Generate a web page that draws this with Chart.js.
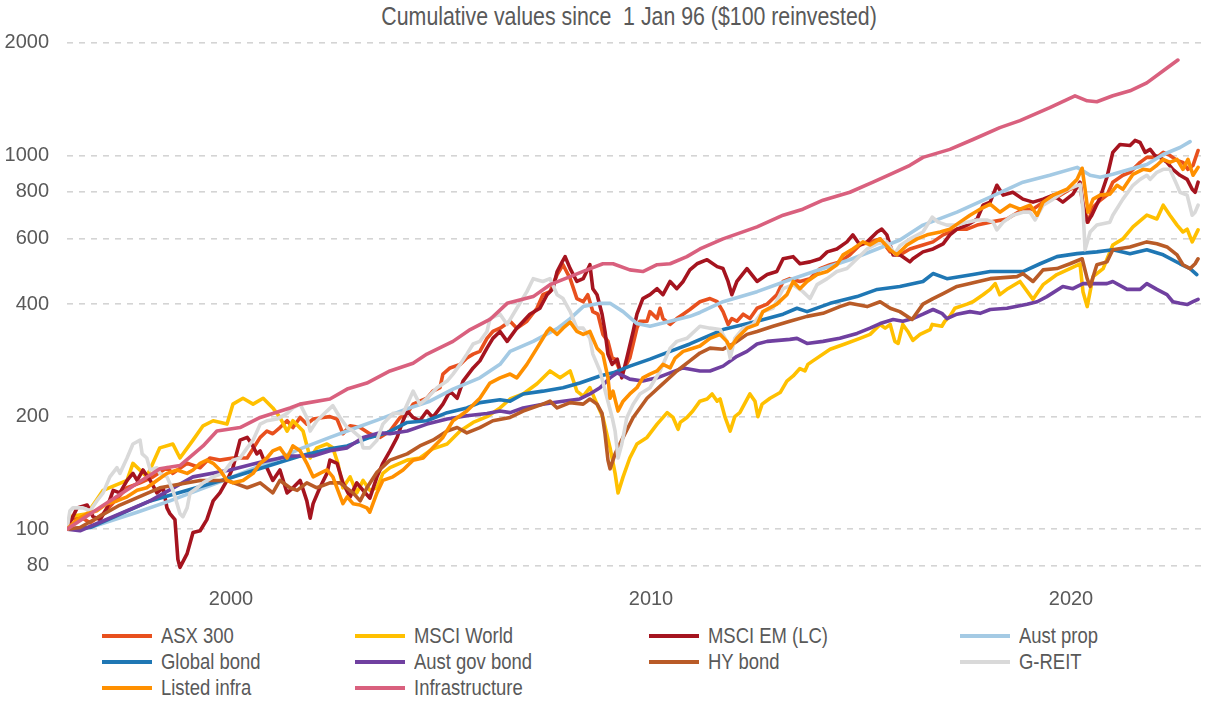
<!DOCTYPE html>
<html>
<head>
<meta charset="utf-8">
<script src="https://cdn.jsdelivr.net/npm/chart.js@4.4.0/dist/chart.umd.min.js"></script>
<style>
body { margin: 0; background: #fff; }
#wrap { position: relative; width: 1206px; height: 701px; font-family: "Liberation Sans", Arial, sans-serif; color: #595959; }
#plot { position: absolute; left: 0; top: 0; width: 1206px; height: 612px; }
#title { position: absolute; top: 1px; left: 0; width: 1258px; text-align: center; font-size: 26px; white-space: pre; }
#title span { display: inline-block; transform: scaleX(0.82); transform-origin: center; }
#legend { position: absolute; left: 0; top: 623px; width: 1206px; height: 78px; }
.item { position: absolute; height: 26px; line-height: 26px; font-size: 22.5px; white-space: nowrap; }
.item .sw { display: inline-block; width: 50px; height: 4px; vertical-align: middle; margin-right: 9px; position: relative; top: -1px; }
.item .txt { display: inline-block; transform: scaleX(0.82); transform-origin: left center; }
</style>
</head>
<body>
<div id="wrap">
  <div id="title"><span>Cumulative values since  1 Jan 96 ($100 reinvested)</span></div>
  <div id="plot"><canvas id="myLineChart"></canvas></div>
  <div id="legend"></div>
</div>
<script>
// series: [year, value]
var asx300 = [[1996.00,100],[1996.07,106],[1996.31,108],[1996.55,104],[1996.86,110],[1997.43,129],[1997.74,133],[1998.05,138],[1998.38,146],[1998.52,141],[1998.86,150],[1999.17,146],[1999.40,155],[1999.64,153],[1999.95,155],[2000.29,155],[2000.60,176],[2000.76,183],[2000.90,180],[2001.07,187],[2001.24,195],[2001.38,187],[2001.55,199],[2001.71,191],[2001.86,197],[2002.10,199],[2002.26,200],[2002.43,197],[2002.57,180],[2002.74,189],[2002.98,187],[2003.21,180],[2003.45,176],[2003.69,183],[2003.93,199],[2004.10,204],[2004.24,216],[2004.40,220],[2004.57,224],[2004.71,234],[2004.88,239],[2004.95,260],[2005.12,270],[2005.36,276],[2005.52,287],[2005.67,294],[2005.83,299],[2006.00,324],[2006.14,338],[2006.31,345],[2006.55,360],[2006.71,345],[2006.95,360],[2007.19,390],[2007.33,424],[2007.50,432],[2007.67,480],[2007.81,510],[2007.98,468],[2008.14,414],[2008.29,406],[2008.40,424],[2008.52,382],[2008.64,376],[2008.76,332],[2008.88,318],[2008.98,287],[2009.05,285],[2009.17,265],[2009.24,265],[2009.40,287],[2009.57,345],[2009.64,360],[2009.81,360],[2009.88,382],[2010.05,366],[2010.12,390],[2010.19,366],[2010.36,353],[2010.52,366],[2010.67,376],[2010.83,387],[2011.07,406],[2011.31,414],[2011.48,406],[2011.62,382],[2011.74,353],[2011.83,366],[2011.95,360],[2012.10,376],[2012.26,366],[2012.43,390],[2012.67,400],[2012.90,424],[2013.05,460],[2013.21,468],[2013.45,460],[2013.69,468],[2013.93,498],[2014.17,510],[2014.40,519],[2014.64,542],[2014.88,576],[2015.12,587],[2015.36,598],[2015.60,552],[2015.83,542],[2016.07,562],[2016.38,576],[2016.62,587],[2016.86,613],[2017.19,635],[2017.43,635],[2017.67,651],[2017.98,663],[2018.38,676],[2018.76,718],[2019.00,718],[2019.24,750],[2019.57,773],[2019.88,812],[2020.12,832],[2020.19,736],[2020.31,663],[2020.43,727],[2020.60,759],[2020.76,783],[2020.90,848],[2021.14,885],[2021.31,901],[2021.55,958],[2021.71,988],[2021.95,988],[2022.10,1019],[2022.26,1000],[2022.43,970],[2022.57,958],[2022.69,918],[2022.81,941],[2022.93,1031]];

var msciWorld = [[1996.00,100],[1996.07,108],[1996.48,110],[1996.86,127],[1997.43,135],[1997.57,150],[1997.90,138],[1998.21,165],[1998.52,169],[1998.69,155],[1999.00,173],[1999.24,189],[1999.48,195],[1999.81,191],[1999.95,216],[2000.19,224],[2000.43,216],[2000.67,224],[2000.90,211],[2001.07,199],[2001.24,183],[2001.38,195],[2001.62,183],[2001.79,155],[2001.95,165],[2002.19,169],[2002.33,165],[2002.45,150],[2002.57,129],[2002.74,138],[2002.90,125],[2003.05,135],[2003.21,127],[2003.38,129],[2003.52,141],[2003.69,146],[2004.10,153],[2004.40,155],[2004.71,164],[2005.05,169],[2005.36,183],[2005.67,193],[2006.00,200],[2006.31,211],[2006.55,223],[2006.86,230],[2007.19,245],[2007.50,265],[2007.74,254],[2007.98,265],[2008.14,234],[2008.29,227],[2008.45,239],[2008.62,216],[2008.76,199],[2008.93,165],[2009.05,141],[2009.12,125],[2009.24,138],[2009.40,155],[2009.57,169],[2009.81,176],[2010.05,191],[2010.29,205],[2010.43,199],[2010.55,185],[2010.60,193],[2010.76,199],[2010.90,207],[2011.07,220],[2011.24,223],[2011.36,230],[2011.48,220],[2011.55,223],[2011.67,199],[2011.79,183],[2011.90,200],[2012.02,205],[2012.26,230],[2012.38,220],[2012.45,200],[2012.55,216],[2012.74,224],[2012.98,232],[2013.14,249],[2013.29,257],[2013.45,269],[2013.57,265],[2013.64,276],[2013.76,282],[2014.17,303],[2014.52,313],[2014.88,324],[2015.12,332],[2015.36,353],[2015.48,345],[2015.60,353],[2015.71,318],[2015.79,314],[2015.90,353],[2016.02,338],[2016.14,320],[2016.31,332],[2016.55,342],[2016.60,353],[2016.83,349],[2016.90,360],[2017.02,371],[2017.14,390],[2017.43,400],[2017.57,406],[2017.81,424],[2017.98,438],[2018.10,454],[2018.21,424],[2018.40,440],[2018.69,460],[2019.00,412],[2019.24,451],[2019.57,480],[2019.88,498],[2020.12,513],[2020.19,432],[2020.29,394],[2020.43,474],[2020.67,498],[2020.90,576],[2021.14,598],[2021.38,644],[2021.71,692],[2021.95,676],[2022.10,736],[2022.26,692],[2022.43,651],[2022.57,624],[2022.67,635],[2022.79,587],[2022.93,632]];

var msciEm = [[1996.00,100],[1996.07,104],[1996.24,114],[1996.48,116],[1996.62,108],[1996.79,106],[1996.95,114],[1997.10,127],[1997.26,125],[1997.43,135],[1997.57,141],[1997.67,135],[1997.81,144],[1997.98,135],[1998.14,125],[1998.29,129],[1998.38,114],[1998.45,110],[1998.57,106],[1998.64,83],[1998.69,79],[1998.86,86],[1999.00,98],[1999.17,99],[1999.33,106],[1999.48,119],[1999.64,125],[1999.81,135],[1999.95,146],[2000.12,173],[2000.29,176],[2000.40,169],[2000.52,159],[2000.60,162],[2000.76,146],[2000.90,135],[2001.07,144],[2001.24,125],[2001.38,129],[2001.55,135],[2001.71,119],[2001.79,107],[2001.86,117],[2002.02,129],[2002.19,141],[2002.26,153],[2002.43,150],[2002.57,133],[2002.74,122],[2002.90,133],[2003.05,127],[2003.21,121],[2003.38,138],[2003.52,150],[2003.69,162],[2003.86,176],[2004.00,195],[2004.10,207],[2004.24,199],[2004.40,195],[2004.57,207],[2004.71,199],[2004.95,216],[2005.12,234],[2005.29,224],[2005.43,249],[2005.67,270],[2005.83,282],[2006.00,305],[2006.14,324],[2006.31,338],[2006.48,318],[2006.71,345],[2007.02,376],[2007.26,390],[2007.43,424],[2007.57,440],[2007.67,489],[2007.79,519],[2007.86,536],[2007.98,498],[2008.14,460],[2008.29,468],[2008.45,510],[2008.52,440],[2008.62,424],[2008.74,376],[2008.81,338],[2008.88,294],[2008.98,276],[2009.10,285],[2009.21,254],[2009.33,287],[2009.48,338],[2009.57,376],[2009.71,414],[2009.88,424],[2010.05,440],[2010.19,424],[2010.36,460],[2010.52,440],[2010.67,460],[2010.83,494],[2011.00,513],[2011.24,526],[2011.48,504],[2011.62,498],[2011.74,460],[2011.83,424],[2011.95,460],[2012.19,498],[2012.43,460],[2012.67,480],[2012.90,489],[2013.05,529],[2013.29,536],[2013.45,513],[2013.69,519],[2013.93,529],[2014.10,552],[2014.33,562],[2014.57,587],[2014.71,613],[2014.88,576],[2015.05,587],[2015.29,624],[2015.40,635],[2015.52,613],[2015.67,542],[2015.83,542],[2016.07,519],[2016.14,529],[2016.38,552],[2016.62,562],[2016.86,580],[2017.02,613],[2017.19,635],[2017.43,651],[2017.67,676],[2017.81,736],[2017.98,750],[2018.14,832],[2018.29,783],[2018.52,797],[2018.76,764],[2019.00,750],[2019.24,764],[2019.48,783],[2019.71,750],[2019.95,788],[2020.12,848],[2020.19,736],[2020.29,663],[2020.40,692],[2020.60,773],[2020.76,874],[2020.90,1019],[2021.07,1070],[2021.31,1063],[2021.43,1097],[2021.55,1083],[2021.67,1019],[2021.79,1038],[2021.90,1000],[2022.02,988],[2022.19,958],[2022.33,918],[2022.50,885],[2022.67,863],[2022.79,812],[2022.86,797],[2022.93,848]];

var austProp = [[1996.00,100],[1996.55,101],[1997.67,111],[1998.45,119],[1999.88,137],[2001.07,155],[2001.55,164],[2002.26,176],[2002.90,187],[2003.45,197],[2004.10,210],[2004.64,220],[2005.19,237],[2005.83,254],[2006.31,276],[2006.55,299],[2007.10,318],[2007.67,344],[2007.98,366],[2008.29,394],[2008.69,402],[2008.93,402],[2009.24,382],[2009.57,355],[2009.88,349],[2010.36,360],[2010.83,371],[2011.07,380],[2011.62,406],[2012.43,432],[2013.21,465],[2014.00,498],[2014.64,526],[2015.29,562],[2015.83,594],[2016.38,651],[2017.19,705],[2017.98,773],[2018.76,848],[2019.40,885],[2020.05,929],[2020.36,885],[2020.60,874],[2020.90,890],[2021.31,918],[2021.71,946],[2022.10,1006],[2022.50,1050],[2022.74,1089]];

var globalBond = [[1996.00,100],[1996.55,101],[1997.98,119],[1999.88,137],[2001.07,151],[2001.55,157],[2002.26,164],[2002.67,167],[2003.21,176],[2003.62,181],[2004.10,193],[2004.57,195],[2005.05,205],[2005.52,211],[2005.83,218],[2006.31,222],[2006.55,220],[2006.86,230],[2007.33,234],[2007.81,239],[2008.21,246],[2008.69,257],[2009.00,262],[2009.40,273],[2009.88,285],[2010.36,299],[2010.83,313],[2011.62,342],[2012.43,360],[2013.05,376],[2013.38,390],[2013.62,382],[2014.17,402],[2014.81,419],[2015.29,438],[2015.83,446],[2016.38,460],[2016.62,483],[2016.95,468],[2017.57,480],[2017.98,489],[2018.76,489],[2019.17,513],[2019.57,536],[2020.05,546],[2020.52,552],[2020.90,559],[2021.31,546],[2021.71,559],[2022.10,542],[2022.50,513],[2022.74,498],[2022.90,480]];

var austGovBond = [[1996.00,100],[1996.31,99],[1997.98,119],[1999.00,138],[1999.88,144],[2000.60,151],[2001.31,157],[2001.86,157],[2002.26,162],[2002.67,165],[2003.05,176],[2003.45,181],[2003.69,180],[2004.10,183],[2004.57,191],[2005.05,197],[2005.52,201],[2006.00,204],[2006.31,207],[2006.55,205],[2006.86,211],[2007.33,216],[2007.81,220],[2008.21,223],[2008.45,230],[2008.69,239],[2008.93,254],[2009.10,262],[2009.40,252],[2009.71,249],[2010.05,254],[2010.36,262],[2010.67,270],[2011.07,265],[2011.31,265],[2011.62,273],[2011.95,290],[2012.19,299],[2012.43,313],[2012.67,318],[2013.21,322],[2013.38,324],[2013.62,314],[2014.00,318],[2014.40,324],[2014.81,334],[2015.12,345],[2015.36,355],[2015.67,364],[2015.90,360],[2016.14,366],[2016.38,376],[2016.62,387],[2016.83,378],[2016.95,366],[2017.19,376],[2017.50,382],[2017.74,378],[2017.98,387],[2018.38,390],[2018.86,400],[2019.10,406],[2019.33,419],[2019.71,446],[2019.95,440],[2020.19,454],[2020.36,454],[2020.76,454],[2020.90,460],[2021.24,438],[2021.55,438],[2021.71,454],[2021.95,438],[2022.19,424],[2022.33,406],[2022.50,402],[2022.67,399],[2022.81,406],[2022.93,412]];

var hyBond = [[1996.00,100],[1996.31,101],[1997.26,116],[1998.21,129],[1999.17,135],[1999.81,135],[2000.29,129],[2000.60,133],[2000.90,125],[2001.07,135],[2001.31,129],[2001.48,127],[2001.71,133],[2001.95,129],[2002.26,133],[2002.50,133],[2002.81,125],[2002.98,119],[2003.14,129],[2003.38,142],[2003.69,153],[2004.10,159],[2004.40,167],[2004.71,173],[2005.05,183],[2005.29,187],[2005.52,181],[2005.83,187],[2006.14,195],[2006.55,199],[2006.86,207],[2007.33,216],[2007.50,220],[2007.67,211],[2007.98,218],[2008.29,216],[2008.45,223],[2008.62,216],[2008.74,204],[2008.81,180],[2008.88,153],[2008.93,145],[2009.05,159],[2009.24,176],[2009.48,199],[2009.81,224],[2010.19,245],[2010.52,265],[2010.83,282],[2011.07,296],[2011.31,305],[2011.62,303],[2011.86,313],[2012.19,332],[2012.43,338],[2012.81,349],[2013.21,360],[2013.62,371],[2014.00,378],[2014.40,394],[2014.64,402],[2015.05,394],[2015.36,406],[2015.60,390],[2015.83,382],[2016.12,364],[2016.38,400],[2016.62,414],[2016.86,427],[2017.19,446],[2017.50,454],[2017.98,468],[2018.62,474],[2018.76,483],[2019.00,460],[2019.24,494],[2019.57,498],[2019.88,513],[2020.17,529],[2020.29,468],[2020.36,446],[2020.52,510],[2020.76,519],[2020.90,559],[2021.31,569],[2021.71,587],[2021.95,580],[2022.19,569],[2022.43,542],[2022.57,510],[2022.74,498],[2022.86,513],[2022.93,529]];

var gReit = [[1996.00,100],[1996.07,112],[1996.14,114],[1996.38,114],[1996.55,112],[1996.71,119],[1996.86,125],[1997.02,138],[1997.19,146],[1997.26,141],[1997.43,155],[1997.57,169],[1997.74,173],[1997.79,159],[1997.90,155],[1997.98,144],[1998.14,146],[1998.21,141],[1998.38,138],[1998.52,127],[1998.62,117],[1998.69,110],[1998.76,108],[1998.86,114],[1998.93,125],[1999.10,129],[1999.24,133],[1999.48,138],[1999.71,141],[1999.95,153],[2000.12,155],[2000.29,165],[2000.43,173],[2000.60,191],[2000.76,195],[2001.00,197],[2001.24,204],[2001.38,211],[2001.55,216],[2001.71,199],[2001.79,183],[2001.95,195],[2002.19,207],[2002.33,214],[2002.50,199],[2002.67,187],[2002.81,183],[2002.98,176],[2003.05,165],[2003.21,165],[2003.38,173],[2003.52,191],[2003.76,204],[2004.00,204],[2004.24,234],[2004.40,216],[2004.57,224],[2004.81,239],[2005.05,249],[2005.19,260],[2005.36,276],[2005.52,294],[2005.67,313],[2005.83,318],[2006.00,338],[2006.07,366],[2006.31,376],[2006.48,353],[2006.71,390],[2006.95,432],[2007.10,468],[2007.33,460],[2007.50,468],[2007.67,424],[2007.81,414],[2007.98,382],[2008.14,345],[2008.29,345],[2008.45,324],[2008.52,294],[2008.69,265],[2008.86,224],[2008.98,199],[2009.05,183],[2009.12,155],[2009.21,169],[2009.33,199],[2009.48,216],[2009.64,230],[2009.88,239],[2010.12,265],[2010.36,305],[2010.52,318],[2010.76,324],[2011.07,349],[2011.31,345],[2011.55,342],[2011.71,318],[2011.79,287],[2011.90,324],[2012.10,345],[2012.33,353],[2012.57,382],[2012.81,390],[2013.05,440],[2013.29,451],[2013.52,432],[2013.69,414],[2013.86,451],[2014.10,468],[2014.33,489],[2014.57,498],[2014.81,529],[2015.05,562],[2015.29,580],[2015.52,587],[2015.71,546],[2015.83,573],[2016.07,598],[2016.38,624],[2016.60,684],[2016.74,663],[2016.95,651],[2017.19,651],[2017.43,663],[2017.67,672],[2017.90,672],[2018.05,663],[2018.14,632],[2018.29,663],[2018.52,692],[2018.76,705],[2018.93,705],[2019.05,672],[2019.24,736],[2019.48,764],[2019.71,797],[2019.95,822],[2020.12,837],[2020.19,718],[2020.24,559],[2020.36,624],[2020.52,651],[2020.83,663],[2020.90,692],[2021.14,764],[2021.38,832],[2021.55,863],[2021.71,885],[2021.79,863],[2021.95,901],[2022.10,918],[2022.26,918],[2022.43,832],[2022.50,797],[2022.67,783],[2022.79,692],[2022.86,705],[2022.93,736]];

var listedInfra = [[1996.00,100],[1996.24,106],[1996.48,110],[1996.71,112],[1996.95,117],[1997.19,119],[1997.43,122],[1997.67,127],[1997.90,129],[1998.14,135],[1998.38,141],[1998.62,144],[1998.86,141],[1999.00,144],[1999.17,150],[1999.33,153],[1999.48,150],[1999.64,144],[1999.81,135],[1999.95,133],[2000.19,135],[2000.43,141],[2000.60,150],[2000.76,155],[2000.90,162],[2001.07,165],[2001.24,155],[2001.38,167],[2001.55,162],[2001.71,150],[2001.86,138],[2002.02,141],[2002.19,144],[2002.33,138],[2002.45,127],[2002.57,117],[2002.67,122],[2002.81,117],[2002.98,116],[2003.14,114],[2003.21,111],[2003.38,125],[2003.52,135],[2003.76,138],[2004.00,144],[2004.24,153],[2004.48,155],[2004.71,165],[2004.95,176],[2005.19,195],[2005.52,207],[2005.83,224],[2006.07,246],[2006.31,254],[2006.55,260],[2006.71,254],[2006.95,276],[2007.19,305],[2007.43,338],[2007.50,345],[2007.67,332],[2007.81,345],[2007.98,358],[2008.14,338],[2008.29,332],[2008.45,338],[2008.62,305],[2008.76,294],[2008.88,254],[2008.93,224],[2009.00,234],[2009.12,207],[2009.24,220],[2009.40,230],[2009.57,239],[2009.71,254],[2009.88,260],[2010.05,265],[2010.19,276],[2010.36,270],[2010.48,287],[2010.67,299],[2010.83,303],[2011.07,309],[2011.31,324],[2011.55,332],[2011.71,318],[2011.79,305],[2011.95,324],[2012.19,345],[2012.43,353],[2012.57,382],[2012.90,400],[2013.14,424],[2013.29,460],[2013.45,440],[2013.62,460],[2013.86,480],[2014.10,489],[2014.33,510],[2014.48,542],[2014.71,562],[2014.95,587],[2015.12,576],[2015.36,598],[2015.60,559],[2015.76,542],[2016.00,576],[2016.24,598],[2016.48,613],[2016.79,624],[2017.02,635],[2017.26,663],[2017.50,692],[2017.74,718],[2017.98,741],[2018.21,705],[2018.45,736],[2018.69,718],[2018.93,736],[2019.10,692],[2019.24,750],[2019.48,783],[2019.81,812],[2020.05,863],[2020.17,924],[2020.24,812],[2020.31,705],[2020.43,764],[2020.60,783],[2020.83,788],[2021.00,832],[2021.14,812],[2021.38,890],[2021.62,918],[2021.79,912],[2021.95,941],[2022.10,976],[2022.26,958],[2022.43,976],[2022.57,918],[2022.69,976],[2022.81,885],[2022.93,929]];

var infrastructure = [[1996.00,100],[1997.02,119],[1998.21,145],[1998.69,148],[1999.24,167],[1999.57,183],[2000.12,187],[2000.60,199],[2001.31,211],[2001.55,216],[2002.26,223],[2002.67,237],[2003.14,246],[2003.69,265],[2004.24,278],[2004.57,294],[2005.19,318],[2005.60,342],[2006.07,364],[2006.48,402],[2007.10,419],[2007.50,451],[2007.98,474],[2008.38,494],[2008.76,513],[2009.00,513],[2009.40,494],[2009.71,489],[2010.05,510],[2010.36,513],[2010.76,536],[2011.07,562],[2011.62,598],[2012.43,644],[2013.05,692],[2013.52,718],[2014.00,759],[2014.64,797],[2015.19,848],[2015.60,890],[2016.07,941],[2016.38,988],[2017.02,1038],[2017.57,1103],[2018.21,1187],[2018.69,1239],[2019.40,1342],[2020.00,1444],[2020.29,1400],[2020.52,1392],[2020.90,1444],[2021.31,1489],[2021.71,1564],[2022.19,1714],[2022.45,1800]];

var seriesLabels = ["ASX 300", "MSCI World", "MSCI EM (LC)", "Aust prop", "Global bond", "Aust gov bond", "HY bond", "G-REIT", "Listed infra", "Infrastructure"];
var seriesData = [asx300, msciWorld, msciEm, austProp, globalBond, austGovBond, hyBond, gReit, listedInfra, infrastructure];
var seriesColors = ["#e8501e", "#ffc000", "#a5141f", "#a4cae4", "#1f77b4", "#7040a0", "#b95b27", "#d9d9d9", "#ff9000", "#d9607e"];

var yTicks = [80, 100, 200, 400, 600, 800, 1000, 2000];
var xTicks = [2000, 2010, 2020];

var datasets = seriesData.map(function (d, i) {
    return {
        label: seriesLabels[i],
        data: d.map(function (p) { return { x: p[0], y: p[1] }; }),
        borderColor: seriesColors[i],
        backgroundColor: seriesColors[i],
        borderWidth: 3.6,
        pointRadius: 0,
        tension: 0,
        borderJoinStyle: "round",
        borderCapStyle: "round",
        order: seriesData.length - i
    };
});

var tickFont = { family: '"Liberation Sans", Arial, sans-serif', size: 20 };

var lineChart = document.getElementById("myLineChart");
var LineChart = new Chart(lineChart, {
    type: 'line',
    data: { datasets: datasets },
    options: {
        responsive: true,
        maintainAspectRatio: false,
        animation: false,
        layout: { padding: { top: 27, right: 5, bottom: 0, left: 0 } },
        plugins: {
            legend: { display: false },
            title: { display: false },
            tooltip: { enabled: false }
        },
        scales: {
            x: {
                type: 'linear',
                min: 1996,
                max: 2023,
                grid: { display: false, drawTicks: false },
                border: { display: false },
                ticks: {
                    padding: 9,
                    labelOffset: -4,
                    color: "#595959",
                    font: tickFont,
                    maxRotation: 0,
                    callback: function (v) { return String(v); }
                },
                afterBuildTicks: function (s) { s.ticks = xTicks.map(function (v) { return { value: v }; }); },
                afterFit: function (s) { s.height = 34; }
            },
            y: {
                type: 'logarithmic',
                min: 74,
                max: 2166,
                grid: { color: "#d4d4d4", lineWidth: 1.6, drawTicks: false },
                border: { display: false, dash: [6, 6] },
                ticks: {
                    padding: 18,
                    color: "#595959",
                    font: tickFont,
                    callback: function (v) { return String(v); }
                },
                afterBuildTicks: function (s) { s.ticks = yTicks.map(function (v) { return { value: v }; }); },
                afterFit: function (s) { s.width = 67; }
            }
        }
    }
});

// legend laid out in four columns like the original
var colLeft = [102, 355, 649, 960];
var legendBox = document.getElementById("legend");
seriesLabels.forEach(function (lab, i) {
    var item = document.createElement("div");
    item.className = "item";
    item.style.left = colLeft[i % 4] + "px";
    item.style.top = (Math.floor(i / 4) * 26) + "px";
    var sw = document.createElement("span");
    sw.className = "sw";
    sw.style.background = seriesColors[i];
    var txt = document.createElement("span");
    txt.className = "txt";
    txt.textContent = lab;
    item.appendChild(sw);
    item.appendChild(txt);
    legendBox.appendChild(item);
});
</script>
</body>
</html>
